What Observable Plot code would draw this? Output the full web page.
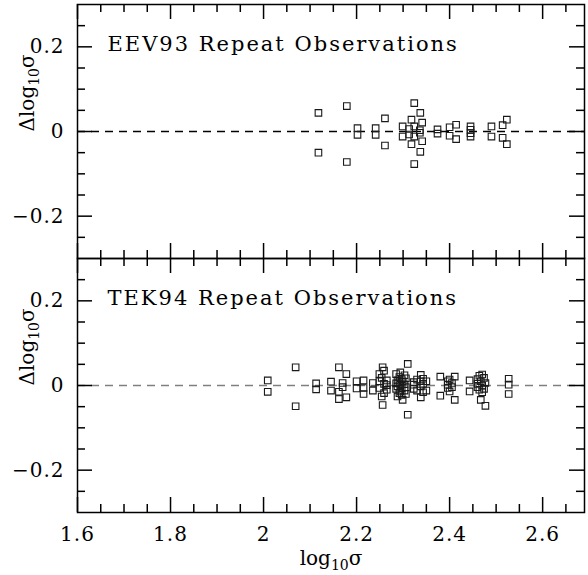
<!DOCTYPE html>
<html><head><meta charset="utf-8">
<script src="https://cdn.jsdelivr.net/npm/d3@7"></script>
<script src="https://cdn.jsdelivr.net/npm/@observablehq/plot@0.6"></script>
<style>
html,body{margin:0;padding:0;background:#fff;}
#chart svg{display:block;}
</style></head><body><div id="chart"></div>
<script>
// ---- data ----
const panels = ["EEV93", "TEK94"];
const panelTitles = ["EEV93 Repeat Observations", "TEK94 Repeat Observations"];

// EEV93: log10 sigma and the repeat-observation differences at that sigma
const eevSigma = [2.118, 2.179, 2.202, 2.241, 2.261, 2.299, 2.313, 2.318, 2.324, 2.336,
                  2.337, 2.341, 2.374, 2.400, 2.414, 2.445, 2.490, 2.514, 2.523];
const eevDelta = [[0.044,-0.050],[0.060,-0.072],[0.008,-0.008],[0.008,-0.008],[0.031,-0.033],
                  [0.012,-0.012],[0.006,-0.007],[0.028,-0.030],[0.067,-0.077,0.012,-0.012],[0.003,-0.003],
                  [0.044,-0.048],[0.021,-0.023],[0.005,-0.005],[0.010,-0.010],[0.016,-0.018],
                  [0.012,0.004,-0.004,-0.012],[0.012,-0.012],[0.015,-0.015],[0.028,-0.030]];

// TEK94
const tekSigma = [2.009, 2.069, 2.113, 2.145, 2.162, 2.170, 2.178, 2.200, 2.215, 2.235,
                  2.249, 2.254, 2.256, 2.259, 2.265, 2.285, 2.288, 2.292, 2.294, 2.297,
                  2.299, 2.303, 2.306, 2.310, 2.323, 2.330, 2.338, 2.343, 2.350, 2.380,
                  2.396, 2.400, 2.405, 2.411, 2.443, 2.460, 2.464, 2.467, 2.470, 2.474,
                  2.477, 2.527];
const tekDelta = [[0.012,-0.015],[0.043,-0.049],[0.005,-0.009],[0.009,-0.012],[0.043,-0.015,-0.032],
                  [0.006,-0.004],[0.027,-0.028],[0.010,-0.007],[0.012,-0.006,-0.020],[0.006,-0.012],
                  [0.027,0.010,-0.006],[0.018,-0.026],[0.043,-0.046],[0.035,0.004,-0.018],[0.012,0.001,-0.010],
                  [0.027,0.005,-0.008],[0.012,-0.002,-0.026],[0.020,0.008,-0.018],[0.031,0.002,-0.014],[0.015,-0.006,-0.022],
                  [0.010,-0.034],[0.024,0.003,-0.012],[0.017,-0.004,-0.020],[0.051,-0.069],[0.008,0.002,-0.008],
                  [0.014,-0.012],[0.025,0.010,-0.002,-0.028],[0.016,0.004,-0.016],[0.010,-0.012],[0.021,-0.024],
                  [0.010,0.002,-0.006],[0.014,-0.014],[0.006,-0.004],[0.021,-0.034],[0.012,-0.014],
                  [0.015,0.004,-0.004],[0.023,-0.010],[0.010,-0.034],[0.026,0.000,-0.016],[0.018,-0.008],
                  [0.006,-0.048],[0.016,0.002,-0.020]];

const xMajorTicks = [1.6, 1.8, 2.0, 2.2, 2.4, 2.6];
const xTickLabels = ["1.6", "1.8", "2", "2.2", "2.4", "2.6"];
const xMinorTicks = [1.65, 1.7, 1.75, 1.85, 1.9, 1.95, 2.05, 2.1, 2.15, 2.25, 2.3, 2.35, 2.45, 2.5, 2.55, 2.65];
const yMajorTicks = [-0.2, 0, 0.2];
const yTickLabels = ["\u22120.2", "0", "0.2"];
const yMinorTicks = [-0.25, -0.15, -0.1, -0.05, 0.05, 0.1, 0.15, 0.25];

// ---- tables ----
const rows = [
  ...eevSigma.flatMap((s, i) => eevDelta[i].map(d => ({panel: "EEV93", sigma: s, delta: d}))),
  ...tekSigma.flatMap((s, i) => tekDelta[i].map(d => ({panel: "TEK94", sigma: s, delta: d})))
];
const perPanel = (ticks) => panels.flatMap(p => ticks.map((v, i) => ({panel: p, v, i})));

// ---- layout ----
const W = 588, H = 575, mL = 77, mR = 4, mT = 4, mB = 63;
const xDom = [1.6, 2.69], yDom = [-0.3, 0.3];
const fw = W - mL - mR;
const fh = (H - mT - mB) / 2;
const major = 15, minor = 8;
const tickStyle = {stroke: "#000", strokeWidth: 1.5};

const svg = Plot.plot({
  width: W, height: H,
  marginLeft: mL, marginRight: mR, marginTop: mT, marginBottom: mB,
  style: {fontFamily: "'DejaVu Serif', serif", fontSize: "20px", background: "white", color: "black"},
  x: {domain: xDom, axis: null},
  y: {domain: yDom, axis: null},
  fy: {domain: panels, axis: null, padding: 0},
  marks: [
    Plot.ruleY([0], {fy: ["EEV93"], stroke: "#000", strokeWidth: 1.3, strokeDasharray: "8,6"}),
    Plot.ruleY([0], {fy: ["TEK94"], stroke: "#7f7f7f", strokeWidth: 1.5, strokeDasharray: "8,6"}),
    Plot.dot(rows, {x: "sigma", y: "delta", fy: "panel", symbol: "square", r: 3.7,
                    stroke: "#1a1a1a", strokeWidth: 1.1, fill: "none"}),
    // inward ticks on all four sides of each panel
    Plot.tickY(perPanel(yMajorTicks), {y: "v", fy: "panel", insetRight: fw - major, ...tickStyle}),
    Plot.tickY(perPanel(yMinorTicks), {y: "v", fy: "panel", insetRight: fw - minor, ...tickStyle}),
    Plot.tickY(perPanel(yMajorTicks), {y: "v", fy: "panel", insetLeft: fw - major, ...tickStyle}),
    Plot.tickY(perPanel(yMinorTicks), {y: "v", fy: "panel", insetLeft: fw - minor, ...tickStyle}),
    Plot.tickX(perPanel(xMajorTicks), {x: "v", fy: "panel", insetTop: fh - major, ...tickStyle}),
    Plot.tickX(perPanel(xMinorTicks), {x: "v", fy: "panel", insetTop: fh - minor, ...tickStyle}),
    Plot.tickX(perPanel(xMajorTicks), {x: "v", fy: "panel", insetBottom: fh - major, ...tickStyle}),
    Plot.tickX(perPanel(xMinorTicks), {x: "v", fy: "panel", insetBottom: fh - minor, ...tickStyle}),
    Plot.frame({stroke: "#000", strokeWidth: 1.5}),
    // tick labels
    Plot.text(perPanel(yMajorTicks), {y: "v", fy: "panel", text: d => yTickLabels[d.i], frameAnchor: "left",
                            textAnchor: "end", dx: -13, fontSize: 20, fill: "#000"}),
    Plot.text(xMajorTicks, {x: d => d, text: (d, i) => xTickLabels[i], fy: xMajorTicks.map(() => "TEK94"),
                            frameAnchor: "bottom", lineAnchor: "middle", dy: 22, fontSize: 20, fill: "#000"}),
    // panel titles
    Plot.text(panels, {fy: d => d, text: (d, i) => panelTitles[i], frameAnchor: "top-left",
                       textAnchor: "start", lineAnchor: "middle", dx: 30, dy: 40, fontSize: 21, fill: "#000"}),
    // axis labels
    Plot.text(panels, {fy: d => d, text: () => "\u0394log10\u03c3", frameAnchor: "left", rotate: -90,
                       dx: -50, fontSize: 20, fill: "#000"}),
    Plot.text(["TEK94"], {fy: d => d, text: () => "log10\u03c3", frameAnchor: "bottom",
                          lineAnchor: "middle", dy: 46, fontSize: 20, fill: "#000"})
  ]
});

// subscripts and letter spacing
d3.select(svg).selectAll("text").each(function () {
  const t = this.textContent;
  const m = t.match(/^(.*log)10(\u03c3)$/);
  const sel = d3.select(this);
  if (m) {
    sel.selectAll("*").remove();
    sel.text(null);
    sel.append("tspan").text(m[1]);
    sel.append("tspan").attr("font-size", 14).attr("dy", 5).text("10");
    sel.append("tspan").attr("dy", -5).text(m[2]);
  } else if (/Repeat/.test(t)) {
    sel.attr("letter-spacing", 2);
  } else {
    sel.attr("letter-spacing", 1);
  }
});

document.getElementById("chart").appendChild(svg);
</script>
</body></html>
